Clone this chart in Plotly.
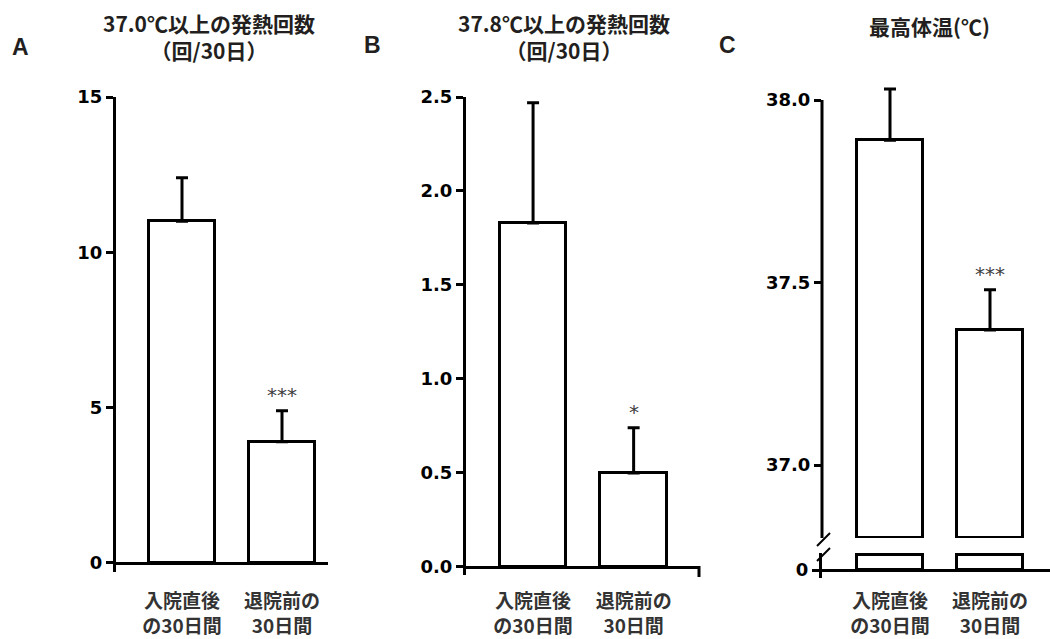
import plotly.graph_objects as go

# ---------------- data ----------------
categories = ["入院直後<br>の30日間", "退院前の<br>30日間"]
x_pos = [0, 1]

a_means = [11.0, 3.9]
a_sem = [1.4, 1.0]
a_sig = ["", "***"]
a_ticks = [0, 5, 10, 15]

b_means = [1.83, 0.50]
b_sem = [0.64, 0.24]
b_sig = ["", "*"]
b_ticks = [0.0, 0.5, 1.0, 1.5, 2.0, 2.5]

c_means = [37.89, 37.37]
c_sem = [0.14, 0.11]
c_sig = ["", "***"]
c_ticks = [37.0, 37.5, 38.0]
c_low_ticks = [0]

titles = ["37.0℃以上の発熱回数<br>（回/30日）", "37.8℃以上の発熱回数<br>（回/30日）", "最高体温(℃)"]
panel_letters = ["A", "B", "C"]

# axis-break settings for panel C
c_break = 36.8      # lower end of the upper segment
c_top = 38.0        # top of the drawn upper axis line
c_low_stub = 1.5    # height of the stub bars in the lower segment

# ---------------- layout helpers ----------------
W, H = 1050, 639
def fx(px):
    return px / W
def fy(py):
    return 1 - py / H

JP = "Noto Sans CJK JP"
NUM = "DejaVu Sans"
BAR_W = 0.66

def bar_trace(y, err, xa, ya, base=None, show_err=True):
    kw = dict(
        x=x_pos, y=y, width=BAR_W, xaxis=xa, yaxis=ya,
        marker=dict(color="white", line=dict(color="black", width=3)),
        cliponaxis=False, showlegend=False, hoverinfo="skip",
    )
    if base is not None:
        kw["base"] = base
    if show_err:
        kw["error_y"] = dict(type="data", symmetric=False, array=err,
                             arrayminus=[0] * len(err), thickness=3, width=6,
                             color="black")
    return go.Bar(**kw)

fig = go.Figure()
fig.add_trace(bar_trace(a_means, a_sem, "x", "y"))
fig.add_trace(bar_trace(b_means, b_sem, "x2", "y2"))
c_heights = [m - c_break for m in c_means]
fig.add_trace(bar_trace(c_heights, c_sem, "x3", "y3", base=c_break))
c_stub = [min(m, c_low_stub) for m in c_means]
fig.add_trace(bar_trace(c_stub, None, "x3", "y4", show_err=False))

yfont = dict(family=NUM, size=18, color="black", weight="bold")
xfont = dict(family=JP, size=19, color="#333333", weight="bold")

def yax(domain, rng, ticks, anchor, fmt=None, showline=True):
    d = dict(domain=domain, range=rng, tickvals=ticks, anchor=anchor,
             showline=showline, linewidth=3, linecolor="black",
             ticks="outside", ticklen=7, tickwidth=2.5, tickcolor="black",
             showgrid=False, zeroline=False, tickfont=yfont, fixedrange=True,
             automargin=False, ticklabelstandoff=0)
    if fmt:
        d["tickformat"] = fmt
    return d

def xax(domain, rng, pos, standoff):
    return dict(domain=domain, range=rng, anchor="free", position=pos,
                tickvals=x_pos, ticktext=categories, ticks="",
                showline=True, linewidth=3, linecolor="black",
                showgrid=False, zeroline=False, tickfont=xfont,
                ticklabelstandoff=standoff, fixedrange=True, automargin=False)

c_px_per_unit = (465 - 100) / 1.0
c_range_top = 38.06
fig.update_layout(
    width=W, height=H, margin=dict(l=0, r=0, t=0, b=0, autoexpand=False),
    plot_bgcolor="white", paper_bgcolor="white",
    bargap=0,
    xaxis=xax([fx(116), fx(328)], [-0.66, 1.46], fy(563), 20),
    yaxis=yax([fy(572), fy(97)], [-0.29, 15], a_ticks, "x"),
    xaxis2=xax([fx(466), fx(700)], [-0.667, 1.66], fy(567), 16),
    yaxis2=yax([fy(575), fy(97)], [-0.043, 2.5], b_ticks, "x2", ".1f"),
    xaxis3=xax([fx(822), 1.0], [-0.68, 1.6], fy(570), 13),
    yaxis3=yax([fy(538), fy(100 - (c_range_top - c_top) * c_px_per_unit)],
               [c_break, c_range_top], c_ticks, "x3", ".1f", showline=False),
    yaxis4=yax([fy(578), fy(553)], [-0.8, 1.7], c_low_ticks, "x3"),
)

# upper-segment axis line of panel C (ends at 38.0, data may go above)
fig.add_shape(type="line", xref="x3 domain", yref="y3", x0=0, x1=0,
              y0=c_break, y1=c_top, line=dict(color="black", width=3))

# significance stars
for xa, ya, means, sems, sig in [("x", "y", a_means, a_sem, a_sig),
                                 ("x2", "y2", b_means, b_sem, b_sig),
                                 ("x3", "y3", c_means, c_sem, c_sig)]:
    for xi, m, s, t in zip(x_pos, means, sems, sig):
        if t:
            fig.add_annotation(x=xi, y=m + s, xref=xa, yref=ya, text=t,
                               showarrow=False, yanchor="bottom", yshift=2,
                               font=dict(family=NUM, size=20, color="#404040"))

# titles
title_pos = [(209, 36), (564, 36), (929, 26)]
for t, (px, py) in zip(titles, title_pos):
    fig.add_annotation(x=fx(px), y=fy(py), xref="paper", yref="paper", text=t,
                       showarrow=False, xanchor="center", yanchor="middle",
                       font=dict(family=JP, size=21, color="#231f20", weight="bold"))

# panel letters
letter_pos = [(20, 47), (372, 45), (727, 45)]
for t, (px, py) in zip(panel_letters, letter_pos):
    fig.add_annotation(x=fx(px), y=fy(py), xref="paper", yref="paper", text=t,
                       showarrow=False, xanchor="center", yanchor="middle",
                       font=dict(family="Liberation Sans", size=23,
                                 color="#231f20", weight="bold"))

# decorations: axis-break slashes (panel C) and end tick (panel B)
line = dict(color="black", width=2)
fig.add_shape(type="line", xref="paper", yref="paper",
              x0=fx(817), y0=fy(546), x1=fx(830), y1=fy(533), line=line)
fig.add_shape(type="line", xref="paper", yref="paper",
              x0=fx(817), y0=fy(561), x1=fx(830), y1=fy(548), line=line)
fig.add_shape(type="line", xref="paper", yref="paper",
              x0=fx(699), y0=fy(566), x1=fx(699), y1=fy(577),
              line=dict(color="black", width=3))

fig.write_html("out.html", config={"displayModeBar": False},
               post_script="document.body.style.margin='0';")
